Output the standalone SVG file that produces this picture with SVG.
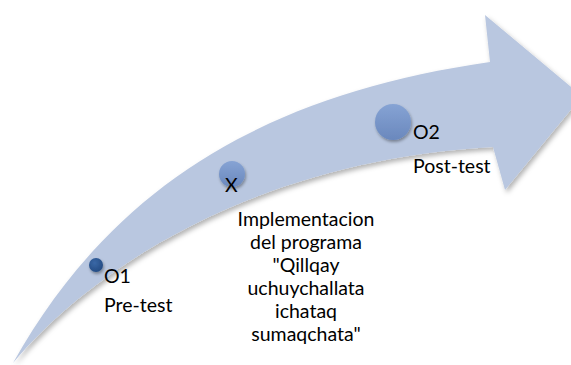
<svg xmlns="http://www.w3.org/2000/svg" width="571" height="365" viewBox="0 0 571 365">
  <style>
    .t { font-family: Lato, "Liberation Sans", sans-serif; font-size: 19.5px; fill: #000; }
    .c { text-anchor: middle; }
  </style>
  <defs>
    <filter id="sh" x="-10%" y="-10%" width="130%" height="130%">
      <feDropShadow dx="2" dy="3" stdDeviation="2.5" flood-color="#000" flood-opacity="0.3"/>
    </filter>
    <filter id="csh" x="-50%" y="-50%" width="200%" height="200%">
      <feDropShadow dx="1" dy="2" stdDeviation="1.5" flood-color="#000" flood-opacity="0.35"/>
    </filter>
    <radialGradient id="gDark" cx="40%" cy="35%" r="70%">
      <stop offset="0" stop-color="#3a68a6"/>
      <stop offset="1" stop-color="#234a82"/>
    </radialGradient>
    <linearGradient id="gMid" x1="0" y1="0" x2="0" y2="1">
      <stop offset="0" stop-color="#86a3d4"/>
      <stop offset="1" stop-color="#6a88bd"/>
    </linearGradient>
  </defs>

  <g id="arrow">
    <path filter="url(#sh)" fill="#b9c7e0"
      d="M13,363 C110,190 260,95 490,62 L485,15 L582,96 L505,190 L493,147 C260,160 95,265 13,363 Z"/>
  </g>

  <g id="node-o1">
    <circle cx="96" cy="265" r="7" fill="url(#gDark)" filter="url(#csh)"/>
    <text class="t" x="104" y="283">O1</text>
    <text class="t" x="104" y="312">Pre-test</text>
  </g>

  <g id="node-x">
    <circle cx="232" cy="174" r="13" fill="url(#gMid)" filter="url(#csh)"/>
    <text class="t" x="225" y="192">X</text>
    <text class="t c" x="306" y="226">Implementacion</text>
    <text class="t c" x="306" y="249">del programa</text>
    <text class="t c" x="306" y="272">"Qillqay</text>
    <text class="t c" x="306" y="295">uchuychallata</text>
    <text class="t c" x="306" y="318">ichataq</text>
    <text class="t c" x="306" y="341">sumaqchata"</text>
  </g>

  <g id="node-o2">
    <circle cx="393" cy="122" r="18" fill="url(#gMid)" filter="url(#csh)"/>
    <text class="t" x="413" y="139">O2</text>
    <text class="t" x="413" y="173">Post-test</text>
  </g>
</svg>
